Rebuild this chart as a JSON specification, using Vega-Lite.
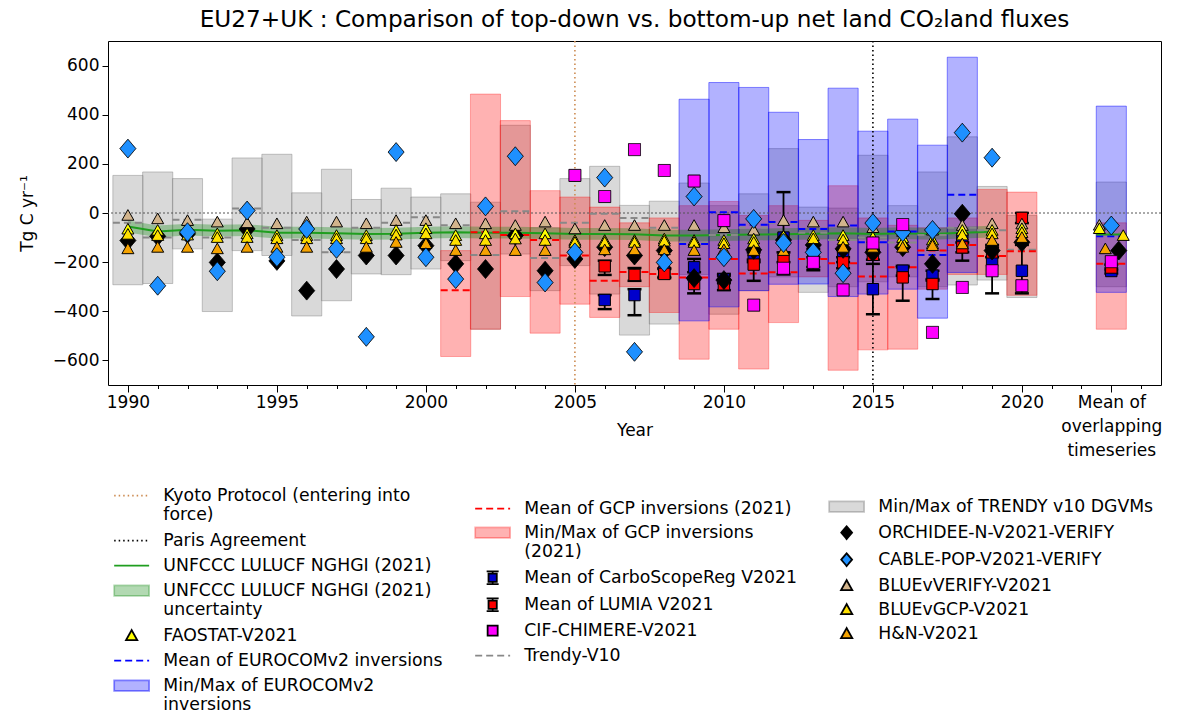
{
  "$schema": "https://vega.github.io/schema/vega-lite/v6.json",
  "autosize": {"type": "none"},
  "padding": {"left": 108, "top": 41, "right": 17, "bottom": 329},
  "width": 1053,
  "height": 344,
  "background": "white",
  "title": {"text": "EU27+UK : Comparison of top-down vs. bottom-up net land CO₂land fluxes", "fontSize": 23.2, "fontWeight": "normal", "font": "DejaVu Sans", "color": "black", "offset": 8, "anchor": "middle", "frame": "group"},
  "config": {"view": {"stroke": "black", "strokeWidth": 1}, "font": "DejaVu Sans", "axis": {"labelOverlap": false}},
  "resolve": {"axis": {"x": "independent"}, "legend": {"fill": "independent", "stroke": "independent", "shape": "independent", "strokeDash": "independent"}},
  "datasets": {
    "bars": [
      {"s":"Min/Max of TRENDY v10 DGVMs","x":1990,"lo":-292,"hi":153},
      {"s":"Min/Max of TRENDY v10 DGVMs","x":1991,"lo":-287,"hi":167},
      {"s":"Min/Max of TRENDY v10 DGVMs","x":1992,"lo":-146,"hi":140},
      {"s":"Min/Max of TRENDY v10 DGVMs","x":1993,"lo":-401,"hi":-25},
      {"s":"Min/Max of TRENDY v10 DGVMs","x":1994,"lo":-153,"hi":224},
      {"s":"Min/Max of TRENDY v10 DGVMs","x":1995,"lo":-173,"hi":239},
      {"s":"Min/Max of TRENDY v10 DGVMs","x":1996,"lo":-419,"hi":82},
      {"s":"Min/Max of TRENDY v10 DGVMs","x":1997,"lo":-357,"hi":178},
      {"s":"Min/Max of TRENDY v10 DGVMs","x":1998,"lo":-248,"hi":55},
      {"s":"Min/Max of TRENDY v10 DGVMs","x":1999,"lo":-251,"hi":101},
      {"s":"Min/Max of TRENDY v10 DGVMs","x":2000,"lo":-228,"hi":65},
      {"s":"Min/Max of TRENDY v10 DGVMs","x":2001,"lo":-194,"hi":78},
      {"s":"Min/Max of TRENDY v10 DGVMs","x":2002,"lo":-473,"hi":44},
      {"s":"Min/Max of TRENDY v10 DGVMs","x":2003,"lo":-167,"hi":357},
      {"s":"Min/Max of TRENDY v10 DGVMs","x":2004,"lo":-316,"hi":-60},
      {"s":"Min/Max of TRENDY v10 DGVMs","x":2005,"lo":-214,"hi":140},
      {"s":"Min/Max of TRENDY v10 DGVMs","x":2006,"lo":-330,"hi":190},
      {"s":"Min/Max of TRENDY v10 DGVMs","x":2007,"lo":-497,"hi":31},
      {"s":"Min/Max of TRENDY v10 DGVMs","x":2008,"lo":-452,"hi":48},
      {"s":"Min/Max of TRENDY v10 DGVMs","x":2009,"lo":-250,"hi":122},
      {"s":"Min/Max of TRENDY v10 DGVMs","x":2010,"lo":-412,"hi":30},
      {"s":"Min/Max of TRENDY v10 DGVMs","x":2011,"lo":-316,"hi":78},
      {"s":"Min/Max of TRENDY v10 DGVMs","x":2012,"lo":-260,"hi":262},
      {"s":"Min/Max of TRENDY v10 DGVMs","x":2013,"lo":-323,"hi":24},
      {"s":"Min/Max of TRENDY v10 DGVMs","x":2014,"lo":-300,"hi":20},
      {"s":"Min/Max of TRENDY v10 DGVMs","x":2015,"lo":-280,"hi":235},
      {"s":"Min/Max of TRENDY v10 DGVMs","x":2016,"lo":-260,"hi":30},
      {"s":"Min/Max of TRENDY v10 DGVMs","x":2017,"lo":-300,"hi":167},
      {"s":"Min/Max of TRENDY v10 DGVMs","x":2018,"lo":-293,"hi":310},
      {"s":"Min/Max of TRENDY v10 DGVMs","x":2019,"lo":-273,"hi":108},
      {"s":"Min/Max of TRENDY v10 DGVMs","x":2020,"lo":-344,"hi":-10},
      {"s":"Min/Max of TRENDY v10 DGVMs","x":2023,"lo":-300,"hi":126},
      {"s":"Min/Max of GCP inversions (2021)","x":2001,"lo":-584,"hi":-153},
      {"s":"Min/Max of GCP inversions (2021)","x":2002,"lo":-473,"hi":484},
      {"s":"Min/Max of GCP inversions (2021)","x":2003,"lo":-340,"hi":376},
      {"s":"Min/Max of GCP inversions (2021)","x":2004,"lo":-489,"hi":91},
      {"s":"Min/Max of GCP inversions (2021)","x":2005,"lo":-371,"hi":65},
      {"s":"Min/Max of GCP inversions (2021)","x":2006,"lo":-425,"hi":24},
      {"s":"Min/Max of GCP inversions (2021)","x":2007,"lo":-300,"hi":-40},
      {"s":"Min/Max of GCP inversions (2021)","x":2008,"lo":-405,"hi":-20},
      {"s":"Min/Max of GCP inversions (2021)","x":2009,"lo":-595,"hi":30},
      {"s":"Min/Max of GCP inversions (2021)","x":2010,"lo":-473,"hi":47},
      {"s":"Min/Max of GCP inversions (2021)","x":2011,"lo":-635,"hi":-10},
      {"s":"Min/Max of GCP inversions (2021)","x":2012,"lo":-446,"hi":30},
      {"s":"Min/Max of GCP inversions (2021)","x":2013,"lo":-260,"hi":-30},
      {"s":"Min/Max of GCP inversions (2021)","x":2014,"lo":-640,"hi":111},
      {"s":"Min/Max of GCP inversions (2021)","x":2015,"lo":-557,"hi":-20},
      {"s":"Min/Max of GCP inversions (2021)","x":2016,"lo":-554,"hi":-50},
      {"s":"Min/Max of GCP inversions (2021)","x":2017,"lo":-310,"hi":-60},
      {"s":"Min/Max of GCP inversions (2021)","x":2018,"lo":-250,"hi":-20},
      {"s":"Min/Max of GCP inversions (2021)","x":2019,"lo":-250,"hi":96},
      {"s":"Min/Max of GCP inversions (2021)","x":2020,"lo":-335,"hi":85},
      {"s":"Min/Max of GCP inversions (2021)","x":2023,"lo":-473,"hi":-40},
      {"s":"Min/Max of EUROCOMv2 inversions","x":2009,"lo":-439,"hi":463},
      {"s":"Min/Max of EUROCOMv2 inversions","x":2010,"lo":-382,"hi":531},
      {"s":"Min/Max of EUROCOMv2 inversions","x":2011,"lo":-316,"hi":511},
      {"s":"Min/Max of EUROCOMv2 inversions","x":2012,"lo":-290,"hi":410},
      {"s":"Min/Max of EUROCOMv2 inversions","x":2013,"lo":-289,"hi":299},
      {"s":"Min/Max of EUROCOMv2 inversions","x":2014,"lo":-340,"hi":508},
      {"s":"Min/Max of EUROCOMv2 inversions","x":2015,"lo":-330,"hi":333},
      {"s":"Min/Max of EUROCOMv2 inversions","x":2016,"lo":-310,"hi":382},
      {"s":"Min/Max of EUROCOMv2 inversions","x":2017,"lo":-428,"hi":276},
      {"s":"Min/Max of EUROCOMv2 inversions","x":2018,"lo":-242,"hi":634},
      {"s":"Min/Max of EUROCOMv2 inversions","x":2023,"lo":-323,"hi":435}
    ],
    "band": [
      {"s":"UNFCCC LULUCF NGHGI (2021) uncertainty","x":1990,"lo":-79,"hi":-31},
      {"s":"UNFCCC LULUCF NGHGI (2021) uncertainty","x":1991,"lo":-99,"hi":-51},
      {"s":"UNFCCC LULUCF NGHGI (2021) uncertainty","x":1992,"lo":-92,"hi":-44},
      {"s":"UNFCCC LULUCF NGHGI (2021) uncertainty","x":1993,"lo":-96,"hi":-48},
      {"s":"UNFCCC LULUCF NGHGI (2021) uncertainty","x":1994,"lo":-94,"hi":-46},
      {"s":"UNFCCC LULUCF NGHGI (2021) uncertainty","x":1995,"lo":-104,"hi":-56},
      {"s":"UNFCCC LULUCF NGHGI (2021) uncertainty","x":1996,"lo":-104,"hi":-56},
      {"s":"UNFCCC LULUCF NGHGI (2021) uncertainty","x":1997,"lo":-106,"hi":-58},
      {"s":"UNFCCC LULUCF NGHGI (2021) uncertainty","x":1998,"lo":-109,"hi":-61},
      {"s":"UNFCCC LULUCF NGHGI (2021) uncertainty","x":1999,"lo":-108,"hi":-60},
      {"s":"UNFCCC LULUCF NGHGI (2021) uncertainty","x":2000,"lo":-104,"hi":-56},
      {"s":"UNFCCC LULUCF NGHGI (2021) uncertainty","x":2001,"lo":-102,"hi":-54},
      {"s":"UNFCCC LULUCF NGHGI (2021) uncertainty","x":2002,"lo":-104,"hi":-56},
      {"s":"UNFCCC LULUCF NGHGI (2021) uncertainty","x":2003,"lo":-104,"hi":-56},
      {"s":"UNFCCC LULUCF NGHGI (2021) uncertainty","x":2004,"lo":-106,"hi":-58},
      {"s":"UNFCCC LULUCF NGHGI (2021) uncertainty","x":2005,"lo":-109,"hi":-61},
      {"s":"UNFCCC LULUCF NGHGI (2021) uncertainty","x":2006,"lo":-109,"hi":-61},
      {"s":"UNFCCC LULUCF NGHGI (2021) uncertainty","x":2007,"lo":-110,"hi":-62},
      {"s":"UNFCCC LULUCF NGHGI (2021) uncertainty","x":2008,"lo":-116,"hi":-68},
      {"s":"UNFCCC LULUCF NGHGI (2021) uncertainty","x":2009,"lo":-116,"hi":-68},
      {"s":"UNFCCC LULUCF NGHGI (2021) uncertainty","x":2010,"lo":-114,"hi":-66},
      {"s":"UNFCCC LULUCF NGHGI (2021) uncertainty","x":2011,"lo":-112,"hi":-64},
      {"s":"UNFCCC LULUCF NGHGI (2021) uncertainty","x":2012,"lo":-110,"hi":-62},
      {"s":"UNFCCC LULUCF NGHGI (2021) uncertainty","x":2013,"lo":-108,"hi":-60},
      {"s":"UNFCCC LULUCF NGHGI (2021) uncertainty","x":2014,"lo":-106,"hi":-58},
      {"s":"UNFCCC LULUCF NGHGI (2021) uncertainty","x":2015,"lo":-109,"hi":-61},
      {"s":"UNFCCC LULUCF NGHGI (2021) uncertainty","x":2016,"lo":-106,"hi":-58},
      {"s":"UNFCCC LULUCF NGHGI (2021) uncertainty","x":2017,"lo":-109,"hi":-61},
      {"s":"UNFCCC LULUCF NGHGI (2021) uncertainty","x":2018,"lo":-104,"hi":-56},
      {"s":"UNFCCC LULUCF NGHGI (2021) uncertainty","x":2019,"lo":-100,"hi":-52}
    ],
    "unf": [
      {"s":"UNFCCC LULUCF NGHGI (2021)","x":1990,"y":-55},
      {"s":"UNFCCC LULUCF NGHGI (2021)","x":1991,"y":-75},
      {"s":"UNFCCC LULUCF NGHGI (2021)","x":1992,"y":-68},
      {"s":"UNFCCC LULUCF NGHGI (2021)","x":1993,"y":-72},
      {"s":"UNFCCC LULUCF NGHGI (2021)","x":1994,"y":-70},
      {"s":"UNFCCC LULUCF NGHGI (2021)","x":1995,"y":-80},
      {"s":"UNFCCC LULUCF NGHGI (2021)","x":1996,"y":-80},
      {"s":"UNFCCC LULUCF NGHGI (2021)","x":1997,"y":-82},
      {"s":"UNFCCC LULUCF NGHGI (2021)","x":1998,"y":-85},
      {"s":"UNFCCC LULUCF NGHGI (2021)","x":1999,"y":-84},
      {"s":"UNFCCC LULUCF NGHGI (2021)","x":2000,"y":-80},
      {"s":"UNFCCC LULUCF NGHGI (2021)","x":2001,"y":-78},
      {"s":"UNFCCC LULUCF NGHGI (2021)","x":2002,"y":-80},
      {"s":"UNFCCC LULUCF NGHGI (2021)","x":2003,"y":-80},
      {"s":"UNFCCC LULUCF NGHGI (2021)","x":2004,"y":-82},
      {"s":"UNFCCC LULUCF NGHGI (2021)","x":2005,"y":-85},
      {"s":"UNFCCC LULUCF NGHGI (2021)","x":2006,"y":-85},
      {"s":"UNFCCC LULUCF NGHGI (2021)","x":2007,"y":-86},
      {"s":"UNFCCC LULUCF NGHGI (2021)","x":2008,"y":-92},
      {"s":"UNFCCC LULUCF NGHGI (2021)","x":2009,"y":-92},
      {"s":"UNFCCC LULUCF NGHGI (2021)","x":2010,"y":-90},
      {"s":"UNFCCC LULUCF NGHGI (2021)","x":2011,"y":-88},
      {"s":"UNFCCC LULUCF NGHGI (2021)","x":2012,"y":-86},
      {"s":"UNFCCC LULUCF NGHGI (2021)","x":2013,"y":-84},
      {"s":"UNFCCC LULUCF NGHGI (2021)","x":2014,"y":-82},
      {"s":"UNFCCC LULUCF NGHGI (2021)","x":2015,"y":-85},
      {"s":"UNFCCC LULUCF NGHGI (2021)","x":2016,"y":-82},
      {"s":"UNFCCC LULUCF NGHGI (2021)","x":2017,"y":-85},
      {"s":"UNFCCC LULUCF NGHGI (2021)","x":2018,"y":-80},
      {"s":"UNFCCC LULUCF NGHGI (2021)","x":2019,"y":-76}
    ],
    "vlines": [
      {"s":"Kyoto Protocol (entering into force)","x":2005},
      {"s":"Paris Agreement","x":2015}
    ],
    "dashes": [
      {"s":"Trendy-V10","x":1990,"y":-40},{"s":"Trendy-V10","x":1991,"y":-100},{"s":"Trendy-V10","x":1992,"y":-27},
      {"s":"Trendy-V10","x":1993,"y":-100},{"s":"Trendy-V10","x":1994,"y":18},{"s":"Trendy-V10","x":1995,"y":-60},
      {"s":"Trendy-V10","x":1996,"y":-110},{"s":"Trendy-V10","x":1997,"y":-160},{"s":"Trendy-V10","x":1998,"y":-60},
      {"s":"Trendy-V10","x":1999,"y":-40},{"s":"Trendy-V10","x":2000,"y":-17},{"s":"Trendy-V10","x":2001,"y":-50},
      {"s":"Trendy-V10","x":2002,"y":-171},{"s":"Trendy-V10","x":2003,"y":7},{"s":"Trendy-V10","x":2004,"y":-183},
      {"s":"Trendy-V10","x":2005,"y":-40},{"s":"Trendy-V10","x":2006,"y":-3},{"s":"Trendy-V10","x":2007,"y":-20},
      {"s":"Trendy-V10","x":2008,"y":-60},{"s":"Trendy-V10","x":2009,"y":-120},{"s":"Trendy-V10","x":2010,"y":-90},
      {"s":"Trendy-V10","x":2011,"y":-60},{"s":"Trendy-V10","x":2012,"y":-40},{"s":"Trendy-V10","x":2013,"y":-80},
      {"s":"Trendy-V10","x":2014,"y":-110},{"s":"Trendy-V10","x":2015,"y":-100},{"s":"Trendy-V10","x":2016,"y":-120},
      {"s":"Trendy-V10","x":2017,"y":-90},{"s":"Trendy-V10","x":2018,"y":-60},{"s":"Trendy-V10","x":2019,"y":-70},
      {"s":"Trendy-V10","x":2020,"y":-150},{"s":"Trendy-V10","x":2023,"y":-80},
      {"s":"Mean of GCP inversions (2021)","x":2001,"y":-314},{"s":"Mean of GCP inversions (2021)","x":2002,"y":-78},
      {"s":"Mean of GCP inversions (2021)","x":2003,"y":-90},{"s":"Mean of GCP inversions (2021)","x":2004,"y":-110},
      {"s":"Mean of GCP inversions (2021)","x":2005,"y":-173},{"s":"Mean of GCP inversions (2021)","x":2006,"y":-276},
      {"s":"Mean of GCP inversions (2021)","x":2007,"y":-240},{"s":"Mean of GCP inversions (2021)","x":2008,"y":-248},
      {"s":"Mean of GCP inversions (2021)","x":2009,"y":-262},{"s":"Mean of GCP inversions (2021)","x":2010,"y":-187},
      {"s":"Mean of GCP inversions (2021)","x":2011,"y":-246},{"s":"Mean of GCP inversions (2021)","x":2012,"y":-241},
      {"s":"Mean of GCP inversions (2021)","x":2013,"y":-187},{"s":"Mean of GCP inversions (2021)","x":2014,"y":-205},
      {"s":"Mean of GCP inversions (2021)","x":2015,"y":-258},{"s":"Mean of GCP inversions (2021)","x":2016,"y":-221},
      {"s":"Mean of GCP inversions (2021)","x":2017,"y":-153},{"s":"Mean of GCP inversions (2021)","x":2018,"y":-130},
      {"s":"Mean of GCP inversions (2021)","x":2019,"y":-175},{"s":"Mean of GCP inversions (2021)","x":2020,"y":-156},
      {"s":"Mean of GCP inversions (2021)","x":2023,"y":-207},
      {"s":"Mean of EUROCOMv2 inversions","x":2009,"y":-126},{"s":"Mean of EUROCOMv2 inversions","x":2010,"y":3},
      {"s":"Mean of EUROCOMv2 inversions","x":2011,"y":-48},{"s":"Mean of EUROCOMv2 inversions","x":2012,"y":-37},
      {"s":"Mean of EUROCOMv2 inversions","x":2013,"y":-65},{"s":"Mean of EUROCOMv2 inversions","x":2014,"y":-51},
      {"s":"Mean of EUROCOMv2 inversions","x":2015,"y":-119},{"s":"Mean of EUROCOMv2 inversions","x":2016,"y":-75},
      {"s":"Mean of EUROCOMv2 inversions","x":2017,"y":-171},{"s":"Mean of EUROCOMv2 inversions","x":2018,"y":74},
      {"s":"Mean of EUROCOMv2 inversions","x":2023,"y":-95},
      {"s":"UNFCCC LULUCF NGHGI (2021)","x":2023,"y":-88}
    ],
    "errs": [
      {"s":"Mean of CarboScopeReg V2021","x":2006,"y":-354,"lo":-391,"hi":-334},
      {"s":"Mean of CarboScopeReg V2021","x":2007,"y":-334,"lo":-416,"hi":-310},
      {"s":"Mean of CarboScopeReg V2021","x":2008,"y":-240,"lo":-260,"hi":-225},
      {"s":"Mean of CarboScopeReg V2021","x":2009,"y":-221,"lo":-241,"hi":-187},
      {"s":"Mean of CarboScopeReg V2021","x":2010,"y":-270,"lo":-285,"hi":-255},
      {"s":"Mean of CarboScopeReg V2021","x":2011,"y":-180,"lo":-200,"hi":-160},
      {"s":"Mean of CarboScopeReg V2021","x":2012,"y":-100,"lo":-250,"hi":85},
      {"s":"Mean of CarboScopeReg V2021","x":2013,"y":-190,"lo":-233,"hi":-146},
      {"s":"Mean of CarboScopeReg V2021","x":2014,"y":-175,"lo":-200,"hi":-150},
      {"s":"Mean of CarboScopeReg V2021","x":2015,"y":-310,"lo":-412,"hi":-207},
      {"s":"Mean of CarboScopeReg V2021","x":2016,"y":-235,"lo":-255,"hi":-215},
      {"s":"Mean of CarboScopeReg V2021","x":2017,"y":-255,"lo":-275,"hi":-235},
      {"s":"Mean of CarboScopeReg V2021","x":2018,"y":-105,"lo":-194,"hi":-3},
      {"s":"Mean of CarboScopeReg V2021","x":2019,"y":-194,"lo":-327,"hi":-130},
      {"s":"Mean of CarboScopeReg V2021","x":2020,"y":-235,"lo":-327,"hi":-130},
      {"s":"Mean of CarboScopeReg V2021","x":2023,"y":-236,"lo":-246,"hi":-226},
      {"s":"Mean of LUMIA V2021","x":2006,"y":-217,"lo":-252,"hi":-194},
      {"s":"Mean of LUMIA V2021","x":2007,"y":-252,"lo":-276,"hi":-224},
      {"s":"Mean of LUMIA V2021","x":2008,"y":-248,"lo":-265,"hi":-228},
      {"s":"Mean of LUMIA V2021","x":2009,"y":-289,"lo":-327,"hi":-269},
      {"s":"Mean of LUMIA V2021","x":2010,"y":-290,"lo":-314,"hi":-248},
      {"s":"Mean of LUMIA V2021","x":2011,"y":-210,"lo":-276,"hi":-190},
      {"s":"Mean of LUMIA V2021","x":2012,"y":-187,"lo":-200,"hi":-160},
      {"s":"Mean of LUMIA V2021","x":2013,"y":-200,"lo":-220,"hi":-180},
      {"s":"Mean of LUMIA V2021","x":2014,"y":-201,"lo":-225,"hi":-180},
      {"s":"Mean of LUMIA V2021","x":2015,"y":-170,"lo":-190,"hi":-150},
      {"s":"Mean of LUMIA V2021","x":2016,"y":-262,"lo":-357,"hi":-221},
      {"s":"Mean of LUMIA V2021","x":2017,"y":-289,"lo":-350,"hi":-269},
      {"s":"Mean of LUMIA V2021","x":2018,"y":-140,"lo":-160,"hi":-120},
      {"s":"Mean of LUMIA V2021","x":2019,"y":-160,"lo":-180,"hi":-140},
      {"s":"Mean of LUMIA V2021","x":2020,"y":-20,"lo":-41,"hi":0},
      {"s":"Mean of LUMIA V2021","x":2023,"y":-222,"lo":-234,"hi":-210}
    ],
    "pts": [
      {"s":"ORCHIDEE-N-V2021-VERIFY","x":1990,"y":-112},{"s":"ORCHIDEE-N-V2021-VERIFY","x":1991,"y":-95},
      {"s":"ORCHIDEE-N-V2021-VERIFY","x":1992,"y":-85},{"s":"ORCHIDEE-N-V2021-VERIFY","x":1993,"y":-201},
      {"s":"ORCHIDEE-N-V2021-VERIFY","x":1994,"y":-65},{"s":"ORCHIDEE-N-V2021-VERIFY","x":1995,"y":-195},
      {"s":"ORCHIDEE-N-V2021-VERIFY","x":1996,"y":-316},{"s":"ORCHIDEE-N-V2021-VERIFY","x":1997,"y":-228},
      {"s":"ORCHIDEE-N-V2021-VERIFY","x":1998,"y":-173},{"s":"ORCHIDEE-N-V2021-VERIFY","x":1999,"y":-173},
      {"s":"ORCHIDEE-N-V2021-VERIFY","x":2000,"y":-133},{"s":"ORCHIDEE-N-V2021-VERIFY","x":2001,"y":-207},
      {"s":"ORCHIDEE-N-V2021-VERIFY","x":2002,"y":-228},{"s":"ORCHIDEE-N-V2021-VERIFY","x":2003,"y":-92},
      {"s":"ORCHIDEE-N-V2021-VERIFY","x":2004,"y":-235},{"s":"ORCHIDEE-N-V2021-VERIFY","x":2005,"y":-187},
      {"s":"ORCHIDEE-N-V2021-VERIFY","x":2006,"y":-139},{"s":"ORCHIDEE-N-V2021-VERIFY","x":2007,"y":-173},
      {"s":"ORCHIDEE-N-V2021-VERIFY","x":2008,"y":-153},{"s":"ORCHIDEE-N-V2021-VERIFY","x":2009,"y":-265},
      {"s":"ORCHIDEE-N-V2021-VERIFY","x":2010,"y":-273},{"s":"ORCHIDEE-N-V2021-VERIFY","x":2011,"y":-150},
      {"s":"ORCHIDEE-N-V2021-VERIFY","x":2012,"y":-110},{"s":"ORCHIDEE-N-V2021-VERIFY","x":2013,"y":-130},
      {"s":"ORCHIDEE-N-V2021-VERIFY","x":2014,"y":-146},{"s":"ORCHIDEE-N-V2021-VERIFY","x":2015,"y":-160},
      {"s":"ORCHIDEE-N-V2021-VERIFY","x":2016,"y":-139},{"s":"ORCHIDEE-N-V2021-VERIFY","x":2017,"y":-207},
      {"s":"ORCHIDEE-N-V2021-VERIFY","x":2018,"y":-3},{"s":"ORCHIDEE-N-V2021-VERIFY","x":2019,"y":-153},
      {"s":"ORCHIDEE-N-V2021-VERIFY","x":2020,"y":-119},{"s":"ORCHIDEE-N-V2021-VERIFY","x":2023.25,"y":-153},
      {"s":"BLUEvVERIFY-V2021","x":1990,"y":-10},{"s":"BLUEvVERIFY-V2021","x":1991,"y":-24},{"s":"BLUEvVERIFY-V2021","x":1992,"y":-31},
      {"s":"BLUEvVERIFY-V2021","x":1993,"y":-37},{"s":"BLUEvVERIFY-V2021","x":1994,"y":-40},{"s":"BLUEvVERIFY-V2021","x":1995,"y":-44},
      {"s":"BLUEvVERIFY-V2021","x":1996,"y":-37},{"s":"BLUEvVERIFY-V2021","x":1997,"y":-37},{"s":"BLUEvVERIFY-V2021","x":1998,"y":-44},
      {"s":"BLUEvVERIFY-V2021","x":1999,"y":-31},{"s":"BLUEvVERIFY-V2021","x":2000,"y":-31},{"s":"BLUEvVERIFY-V2021","x":2001,"y":-44},
      {"s":"BLUEvVERIFY-V2021","x":2002,"y":-44},{"s":"BLUEvVERIFY-V2021","x":2003,"y":-51},{"s":"BLUEvVERIFY-V2021","x":2004,"y":-37},
      {"s":"BLUEvVERIFY-V2021","x":2005,"y":-65},{"s":"BLUEvVERIFY-V2021","x":2006,"y":-51},{"s":"BLUEvVERIFY-V2021","x":2007,"y":-51},
      {"s":"BLUEvVERIFY-V2021","x":2008,"y":-51},{"s":"BLUEvVERIFY-V2021","x":2009,"y":-51},{"s":"BLUEvVERIFY-V2021","x":2010,"y":-60},
      {"s":"BLUEvVERIFY-V2021","x":2011,"y":-70},{"s":"BLUEvVERIFY-V2021","x":2012,"y":-31},{"s":"BLUEvVERIFY-V2021","x":2013,"y":-37},
      {"s":"BLUEvVERIFY-V2021","x":2014,"y":-37},{"s":"BLUEvVERIFY-V2021","x":2015,"y":-60},{"s":"BLUEvVERIFY-V2021","x":2016,"y":-75},
      {"s":"BLUEvVERIFY-V2021","x":2017,"y":-70},{"s":"BLUEvVERIFY-V2021","x":2018,"y":-51},{"s":"BLUEvVERIFY-V2021","x":2019,"y":-44},
      {"s":"BLUEvVERIFY-V2021","x":2020,"y":-45},{"s":"BLUEvVERIFY-V2021","x":2022.6,"y":-50},
      {"s":"FAOSTAT-V2021","x":1990,"y":-66},{"s":"FAOSTAT-V2021","x":1991,"y":-71},{"s":"FAOSTAT-V2021","x":1992,"y":-70},
      {"s":"FAOSTAT-V2021","x":1993,"y":-85},{"s":"FAOSTAT-V2021","x":1994,"y":-85},{"s":"FAOSTAT-V2021","x":1995,"y":-92},
      {"s":"FAOSTAT-V2021","x":1996,"y":-92},{"s":"FAOSTAT-V2021","x":1997,"y":-92},{"s":"FAOSTAT-V2021","x":1998,"y":-92},
      {"s":"FAOSTAT-V2021","x":1999,"y":-71},{"s":"FAOSTAT-V2021","x":2000,"y":-64},{"s":"FAOSTAT-V2021","x":2001,"y":-92},
      {"s":"FAOSTAT-V2021","x":2002,"y":-85},{"s":"FAOSTAT-V2021","x":2003,"y":-85},{"s":"FAOSTAT-V2021","x":2004,"y":-85},
      {"s":"FAOSTAT-V2021","x":2005,"y":-112},{"s":"FAOSTAT-V2021","x":2006,"y":-112},{"s":"FAOSTAT-V2021","x":2007,"y":-112},
      {"s":"FAOSTAT-V2021","x":2008,"y":-106},{"s":"FAOSTAT-V2021","x":2009,"y":-112},{"s":"FAOSTAT-V2021","x":2010,"y":-112},
      {"s":"FAOSTAT-V2021","x":2011,"y":-106},{"s":"FAOSTAT-V2021","x":2012,"y":-95},{"s":"FAOSTAT-V2021","x":2013,"y":-92},
      {"s":"FAOSTAT-V2021","x":2014,"y":-92},{"s":"FAOSTAT-V2021","x":2015,"y":-100},{"s":"FAOSTAT-V2021","x":2016,"y":-100},
      {"s":"FAOSTAT-V2021","x":2017,"y":-110},{"s":"FAOSTAT-V2021","x":2018,"y":-71},{"s":"FAOSTAT-V2021","x":2019,"y":-71},
      {"s":"FAOSTAT-V2021","x":2020,"y":-64},{"s":"FAOSTAT-V2021","x":2022.6,"y":-64},
      {"s":"BLUEvGCP-V2021","x":1990,"y":-87},{"s":"BLUEvGCP-V2021","x":1991,"y":-92},{"s":"BLUEvGCP-V2021","x":1992,"y":-90},
      {"s":"BLUEvGCP-V2021","x":1993,"y":-100},{"s":"BLUEvGCP-V2021","x":1994,"y":-100},{"s":"BLUEvGCP-V2021","x":1995,"y":-105},
      {"s":"BLUEvGCP-V2021","x":1996,"y":-105},{"s":"BLUEvGCP-V2021","x":1997,"y":-105},{"s":"BLUEvGCP-V2021","x":1998,"y":-105},
      {"s":"BLUEvGCP-V2021","x":1999,"y":-90},{"s":"BLUEvGCP-V2021","x":2000,"y":-85},{"s":"BLUEvGCP-V2021","x":2001,"y":-112},
      {"s":"BLUEvGCP-V2021","x":2002,"y":-112},{"s":"BLUEvGCP-V2021","x":2003,"y":-106},{"s":"BLUEvGCP-V2021","x":2004,"y":-112},
      {"s":"BLUEvGCP-V2021","x":2005,"y":-120},{"s":"BLUEvGCP-V2021","x":2006,"y":-120},{"s":"BLUEvGCP-V2021","x":2007,"y":-120},
      {"s":"BLUEvGCP-V2021","x":2008,"y":-115},{"s":"BLUEvGCP-V2021","x":2009,"y":-120},{"s":"BLUEvGCP-V2021","x":2010,"y":-125},
      {"s":"BLUEvGCP-V2021","x":2011,"y":-120},{"s":"BLUEvGCP-V2021","x":2012,"y":-110},{"s":"BLUEvGCP-V2021","x":2013,"y":-105},
      {"s":"BLUEvGCP-V2021","x":2014,"y":-110},{"s":"BLUEvGCP-V2021","x":2015,"y":-120},{"s":"BLUEvGCP-V2021","x":2016,"y":-120},
      {"s":"BLUEvGCP-V2021","x":2017,"y":-125},{"s":"BLUEvGCP-V2021","x":2018,"y":-90},{"s":"BLUEvGCP-V2021","x":2019,"y":-85},
      {"s":"BLUEvGCP-V2021","x":2020,"y":-80},{"s":"BLUEvGCP-V2021","x":2023.4,"y":-92},
      {"s":"H&N-V2021","x":1990,"y":-146},{"s":"H&N-V2021","x":1991,"y":-140},{"s":"H&N-V2021","x":1992,"y":-140},
      {"s":"H&N-V2021","x":1993,"y":-146},{"s":"H&N-V2021","x":1994,"y":-140},{"s":"H&N-V2021","x":1995,"y":-140},
      {"s":"H&N-V2021","x":1996,"y":-140},{"s":"H&N-V2021","x":1997,"y":-140},{"s":"H&N-V2021","x":1998,"y":-140},
      {"s":"H&N-V2021","x":1999,"y":-120},{"s":"H&N-V2021","x":2000,"y":-125},{"s":"H&N-V2021","x":2001,"y":-153},
      {"s":"H&N-V2021","x":2002,"y":-153},{"s":"H&N-V2021","x":2003,"y":-153},{"s":"H&N-V2021","x":2004,"y":-153},
      {"s":"H&N-V2021","x":2005,"y":-150},{"s":"H&N-V2021","x":2006,"y":-150},{"s":"H&N-V2021","x":2007,"y":-150},
      {"s":"H&N-V2021","x":2008,"y":-150},{"s":"H&N-V2021","x":2009,"y":-153},{"s":"H&N-V2021","x":2010,"y":-150},
      {"s":"H&N-V2021","x":2011,"y":-153},{"s":"H&N-V2021","x":2012,"y":-153},{"s":"H&N-V2021","x":2013,"y":-145},
      {"s":"H&N-V2021","x":2014,"y":-140},{"s":"H&N-V2021","x":2015,"y":-140},{"s":"H&N-V2021","x":2016,"y":-140},
      {"s":"H&N-V2021","x":2017,"y":-133},{"s":"H&N-V2021","x":2018,"y":-126},{"s":"H&N-V2021","x":2019,"y":-112},
      {"s":"H&N-V2021","x":2020,"y":-100},{"s":"H&N-V2021","x":2022.8,"y":-146},
      {"s":"CABLE-POP-V2021-VERIFY","x":1990,"y":262},{"s":"CABLE-POP-V2021-VERIFY","x":1991,"y":-296},
      {"s":"CABLE-POP-V2021-VERIFY","x":1992,"y":-78},{"s":"CABLE-POP-V2021-VERIFY","x":1993,"y":-237},
      {"s":"CABLE-POP-V2021-VERIFY","x":1994,"y":10},{"s":"CABLE-POP-V2021-VERIFY","x":1995,"y":-180},
      {"s":"CABLE-POP-V2021-VERIFY","x":1996,"y":-65},{"s":"CABLE-POP-V2021-VERIFY","x":1997,"y":-146},
      {"s":"CABLE-POP-V2021-VERIFY","x":1998,"y":-504},{"s":"CABLE-POP-V2021-VERIFY","x":1999,"y":248},
      {"s":"CABLE-POP-V2021-VERIFY","x":2000,"y":-180},{"s":"CABLE-POP-V2021-VERIFY","x":2001,"y":-269},
      {"s":"CABLE-POP-V2021-VERIFY","x":2002,"y":27},{"s":"CABLE-POP-V2021-VERIFY","x":2003,"y":231},
      {"s":"CABLE-POP-V2021-VERIFY","x":2004,"y":-283},{"s":"CABLE-POP-V2021-VERIFY","x":2005,"y":-160},
      {"s":"CABLE-POP-V2021-VERIFY","x":2006,"y":144},{"s":"CABLE-POP-V2021-VERIFY","x":2007,"y":-565},
      {"s":"CABLE-POP-V2021-VERIFY","x":2008,"y":-201},{"s":"CABLE-POP-V2021-VERIFY","x":2009,"y":67},
      {"s":"CABLE-POP-V2021-VERIFY","x":2010,"y":-180},{"s":"CABLE-POP-V2021-VERIFY","x":2011,"y":-24},
      {"s":"CABLE-POP-V2021-VERIFY","x":2012,"y":-122},{"s":"CABLE-POP-V2021-VERIFY","x":2013,"y":-160},
      {"s":"CABLE-POP-V2021-VERIFY","x":2014,"y":-245},{"s":"CABLE-POP-V2021-VERIFY","x":2015,"y":-41},
      {"s":"CABLE-POP-V2021-VERIFY","x":2016,"y":-78},{"s":"CABLE-POP-V2021-VERIFY","x":2017,"y":-69},
      {"s":"CABLE-POP-V2021-VERIFY","x":2018,"y":327},{"s":"CABLE-POP-V2021-VERIFY","x":2019,"y":225},
      {"s":"CABLE-POP-V2021-VERIFY","x":2023,"y":-51},
      {"s":"CIF-CHIMERE-V2021","x":2005,"y":153},{"s":"CIF-CHIMERE-V2021","x":2006,"y":67},{"s":"CIF-CHIMERE-V2021","x":2007,"y":258},
      {"s":"CIF-CHIMERE-V2021","x":2008,"y":173},{"s":"CIF-CHIMERE-V2021","x":2009,"y":130},{"s":"CIF-CHIMERE-V2021","x":2010,"y":-31},
      {"s":"CIF-CHIMERE-V2021","x":2011,"y":-375},{"s":"CIF-CHIMERE-V2021","x":2012,"y":-225},{"s":"CIF-CHIMERE-V2021","x":2013,"y":-201},
      {"s":"CIF-CHIMERE-V2021","x":2014,"y":-313},{"s":"CIF-CHIMERE-V2021","x":2015,"y":-122},{"s":"CIF-CHIMERE-V2021","x":2016,"y":-47},
      {"s":"CIF-CHIMERE-V2021","x":2017,"y":-486},{"s":"CIF-CHIMERE-V2021","x":2018,"y":-303},{"s":"CIF-CHIMERE-V2021","x":2019,"y":-235},
      {"s":"CIF-CHIMERE-V2021","x":2020,"y":-296},{"s":"CIF-CHIMERE-V2021","x":2023,"y":-198}
    ]
  },
  "layer": [
    {
      "data": {"name": "bars"},
      "mark": {"type": "bar", "width": 30.1, "strokeWidth": 1},
      "encoding": {
        "x": {"field": "x", "type": "quantitative", "scale": {"domain": [1989.5, 2024.5], "nice": false, "zero": false},
          "axis": {"orient": "bottom", "values": [1990,1995,2000,2005,2010,2015,2020], "format": "d",
            "labelOverlap": false, "labelFlush": false, "labelFontSize": 17, "labelPadding": 2, "tickSize": 7,
            "labelColor": "black", "tickColor": "black", "domain": false, "grid": false,
            "title": "Year", "titleFontSize": 17, "titleFontWeight": "normal", "titleColor": "black", "titleY": 45, "titleBaseline": "middle"}},
        "y": {"field": "lo", "type": "quantitative", "scale": {"domain": [-700, 700], "nice": false, "zero": false},
          "axis": {"values": [-600,-400,-200,0,200,400,600], "format": "d", "labelExpr": "replace(datum.label, '-', '−')",
            "tickSize": 6, "labelFontSize": 17, "labelPadding": 3, "labelColor": "black", "tickColor": "black", "domain": false, "grid": false,
            "title": "Tg C yr⁻¹", "titleFontSize": 17, "titleFontWeight": "normal", "titleColor": "black", "titlePadding": 16}},
        "y2": {"field": "hi"},
        "fill": {"field": "s", "type": "nominal", "legend": null,
          "scale": {"domain": ["Kyoto Protocol (entering into force)","Paris Agreement","UNFCCC LULUCF NGHGI (2021)","UNFCCC LULUCF NGHGI (2021) uncertainty","FAOSTAT-V2021","Mean of EUROCOMv2 inversions","Min/Max of EUROCOMv2 inversions","Mean of GCP inversions (2021)","Min/Max of GCP inversions (2021)","Mean of CarboScopeReg V2021","Mean of LUMIA V2021","CIF-CHIMERE-V2021","Trendy-V10","Min/Max of TRENDY v10 DGVMs","ORCHIDEE-N-V2021-VERIFY","CABLE-POP-V2021-VERIFY","BLUEvVERIFY-V2021","BLUEvGCP-V2021","H&N-V2021"],
            "range": ["#cd8c52","#000000","#1f9e1f","rgba(0,128,0,0.3)","#ffff00","#0000ff","rgba(0,0,255,0.3)","#ff0000","rgba(255,0,0,0.3)","#0000cc","#ff0000","#ff00ff","#888888","rgba(128,128,128,0.3)","#000000","#1e90ff","#d2b48c","#ffe000","#f5a300"]}},
        "stroke": {"field": "s", "type": "nominal", "legend": null,
          "scale": {"domain": ["Kyoto Protocol (entering into force)","Paris Agreement","UNFCCC LULUCF NGHGI (2021)","UNFCCC LULUCF NGHGI (2021) uncertainty","FAOSTAT-V2021","Mean of EUROCOMv2 inversions","Min/Max of EUROCOMv2 inversions","Mean of GCP inversions (2021)","Min/Max of GCP inversions (2021)","Mean of CarboScopeReg V2021","Mean of LUMIA V2021","CIF-CHIMERE-V2021","Trendy-V10","Min/Max of TRENDY v10 DGVMs","ORCHIDEE-N-V2021-VERIFY","CABLE-POP-V2021-VERIFY","BLUEvVERIFY-V2021","BLUEvGCP-V2021","H&N-V2021"],
            "range": ["#cd8c52","#000000","#1f9e1f","rgba(0,128,0,0.3)","#000000","#0000ff","rgba(0,0,255,0.45)","#ff0000","rgba(255,0,0,0.3)","#000000","#000000","#000000","#888888","rgba(128,128,128,0.45)","#000000","#000000","#000000","#000000","#000000"]}}
      }
    },
    {
      "data": {"values": [{}]},
      "mark": {"type": "rule", "color": "#555555", "strokeDash": [2, 2], "strokeWidth": 1},
      "encoding": {"y": {"datum": 0}}
    },
    {
      "data": {"name": "band"},
      "mark": {"type": "area", "opacity": 1},
      "encoding": {
        "x": {"field": "x", "type": "quantitative",
          "axis": {"orient": "bottom", "values": [1991,1992,1993,1994,1996,1997,1998,1999,2001,2002,2003,2004,2006,2007,2008,2009,2011,2012,2013,2014,2016,2017,2018,2019,2021,2022,2024],
            "labels": false, "tickSize": 3.5, "tickColor": "black", "domain": false, "grid": false, "title": null}},
        "y": {"field": "lo", "type": "quantitative"},
        "y2": {"field": "hi"},
        "fill": {"field": "s", "type": "nominal", "legend": null}
      }
    },
    {
      "data": {"name": "unf"},
      "mark": {"type": "line", "strokeWidth": 2},
      "encoding": {
        "x": {"field": "x", "type": "quantitative", "axis": null},
        "y": {"field": "y", "type": "quantitative"},
        "stroke": {"field": "s", "type": "nominal", "legend": null}
      }
    },
    {
      "data": {"name": "vlines"},
      "mark": {"type": "rule", "strokeWidth": 1.6},
      "encoding": {
        "x": {"field": "x", "type": "quantitative", "axis": null},
        "stroke": {"field": "s", "type": "nominal", "legend": null},
        "strokeDash": {"field": "s", "type": "nominal", "legend": null,
          "scale": {"domain": ["Kyoto Protocol (entering into force)","Paris Agreement","UNFCCC LULUCF NGHGI (2021)","UNFCCC LULUCF NGHGI (2021) uncertainty","FAOSTAT-V2021","Mean of EUROCOMv2 inversions","Min/Max of EUROCOMv2 inversions","Mean of GCP inversions (2021)","Min/Max of GCP inversions (2021)","Mean of CarboScopeReg V2021","Mean of LUMIA V2021","CIF-CHIMERE-V2021","Trendy-V10","Min/Max of TRENDY v10 DGVMs","ORCHIDEE-N-V2021-VERIFY","CABLE-POP-V2021-VERIFY","BLUEvVERIFY-V2021","BLUEvGCP-V2021","H&N-V2021"],
            "range": [[1.5,3],[1.5,3],[1,0],[1,0],[1,0],[7,4],[1,0],[7,4],[1,0],[1,0],[1,0],[1,0],[7,4],[1,0],[1,0],[1,0],[1,0],[1,0],[1,0]]}}
      }
    },
    {
      "data": {"name": "dashes"},
      "mark": {"type": "point", "filled": false, "size": 166, "strokeWidth": 2, "opacity": 1},
      "encoding": {
        "x": {"field": "x", "type": "quantitative", "axis": null},
        "y": {"field": "y", "type": "quantitative"},
        "shape": {"field": "s", "type": "nominal", "legend": null,
          "scale": {"domain": ["Kyoto Protocol (entering into force)","Paris Agreement","UNFCCC LULUCF NGHGI (2021)","UNFCCC LULUCF NGHGI (2021) uncertainty","FAOSTAT-V2021","Mean of EUROCOMv2 inversions","Min/Max of EUROCOMv2 inversions","Mean of GCP inversions (2021)","Min/Max of GCP inversions (2021)","Mean of CarboScopeReg V2021","Mean of LUMIA V2021","CIF-CHIMERE-V2021","Trendy-V10","Min/Max of TRENDY v10 DGVMs","ORCHIDEE-N-V2021-VERIFY","CABLE-POP-V2021-VERIFY","BLUEvVERIFY-V2021","BLUEvGCP-V2021","H&N-V2021"],
            "range": ["M-2.33,0H2.33","M-2.33,0H2.33","M-2.33,0H2.33","M-2.33,-0.7H2.33V0.7H-2.33Z","M0,-0.73L0.75,0.6L-0.75,0.6Z","M-2.33,0H2.33","M-2.33,-0.7H2.33V0.7H-2.33Z","M-2.33,0H2.33","M-2.33,-0.7H2.33V0.7H-2.33Z","M-0.8,-0.85H0.8M0,-0.85V-0.55M0,0.55V0.85M-0.8,0.85H0.8M-0.55,-0.55H0.55V0.55H-0.55Z","M-0.8,-0.85H0.8M0,-0.85V-0.55M0,0.55V0.85M-0.8,0.85H0.8M-0.55,-0.55H0.55V0.55H-0.55Z","M-0.67,-0.67H0.67V0.67H-0.67Z","M-2.33,0H2.33","M-2.33,-0.7H2.33V0.7H-2.33Z","M0,-0.85L0.72,0L0,0.85L-0.72,0Z","M0,-0.85L0.72,0L0,0.85L-0.72,0Z","M0,-0.73L0.75,0.6L-0.75,0.6Z","M0,-0.73L0.75,0.6L-0.75,0.6Z","M0,-0.73L0.75,0.6L-0.75,0.6Z"]}},
        "stroke": {"field": "s", "type": "nominal", "legend": null},
        "strokeDash": {"field": "s", "type": "nominal", "legend": null}
      }
    },
    {
      "data": {"name": "errs"},
      "mark": {"type": "rule", "color": "black", "strokeWidth": 1.8},
      "encoding": {
        "x": {"field": "x", "type": "quantitative", "axis": null},
        "y": {"field": "lo", "type": "quantitative"},
        "y2": {"field": "hi"}
      }
    },
    {
      "data": {"name": "errs"},
      "mark": {"type": "point", "shape": "M-1,0H1", "filled": false, "size": 196, "color": "black", "stroke": "black", "strokeWidth": 2.5, "opacity": 1},
      "encoding": {
        "x": {"field": "x", "type": "quantitative", "axis": null},
        "y": {"field": "lo", "type": "quantitative"}
      }
    },
    {
      "data": {"name": "errs"},
      "mark": {"type": "point", "shape": "M-1,0H1", "filled": false, "size": 196, "color": "black", "stroke": "black", "strokeWidth": 2.5, "opacity": 1},
      "encoding": {
        "x": {"field": "x", "type": "quantitative", "axis": null},
        "y": {"field": "hi", "type": "quantitative"}
      }
    },
    {
      "data": {"name": "errs"},
      "mark": {"type": "point", "shape": "square", "filled": true, "size": 130, "stroke": "black", "strokeWidth": 1, "opacity": 1},
      "encoding": {
        "x": {"field": "x", "type": "quantitative", "axis": null},
        "y": {"field": "y", "type": "quantitative"},
        "fill": {"field": "s", "type": "nominal", "legend": null}
      }
    },
    {
      "data": {"name": "pts"},
      "transform": [{"filter": {"field": "s", "equal": "ORCHIDEE-N-V2021-VERIFY"}}],
      "mark": {"type": "point", "filled": true, "size": 493, "strokeWidth": 1, "opacity": 1},
      "encoding": {
        "x": {"field": "x", "type": "quantitative", "axis": null},
        "y": {"field": "y", "type": "quantitative"},
        "shape": {"field": "s", "type": "nominal", "legend": {"title": null, "orient": "none", "direction": "vertical", "legendX": 15, "legendY": 446,
            "values": ["Kyoto Protocol (entering into force)","Paris Agreement","UNFCCC LULUCF NGHGI (2021)","UNFCCC LULUCF NGHGI (2021) uncertainty","FAOSTAT-V2021","Mean of EUROCOMv2 inversions","Min/Max of EUROCOMv2 inversions"],
            "symbolSize": 225, "symbolStrokeWidth": 1.8, "symbolFillColor": "transparent", "symbolStrokeColor": "black", "symbolOffset": 0, "labelOffset": 23, "labelFontSize": 17.3, "labelFont": "DejaVu Sans", "labelColor": "black", "labelLimit": 600, "rowPadding": 7, "padding": 0,
            "labelExpr": "datum.label == 'Kyoto Protocol (entering into force)' ? ['Kyoto Protocol (entering into', 'force)'] : (datum.label == 'UNFCCC LULUCF NGHGI (2021) uncertainty' ? ['UNFCCC LULUCF NGHGI (2021)', 'uncertainty'] : (datum.label == 'Min/Max of EUROCOMv2 inversions' ? ['Min/Max of EUROCOMv2', 'inversions'] : datum.label))",
            "encode": {"symbols": {"update": {"strokeWidth": {"value": 1.8}}}, "labels": {"update": {"lineHeight": {"value": 20}}}}}},
        "fill": {"field": "s", "type": "nominal", "legend": {"title": null, "orient": "none", "direction": "vertical", "legendX": 15, "legendY": 446,
            "values": ["Kyoto Protocol (entering into force)","Paris Agreement","UNFCCC LULUCF NGHGI (2021)","UNFCCC LULUCF NGHGI (2021) uncertainty","FAOSTAT-V2021","Mean of EUROCOMv2 inversions","Min/Max of EUROCOMv2 inversions"],
            "symbolSize": 225, "symbolStrokeWidth": 1.8, "symbolFillColor": "transparent", "symbolStrokeColor": "black", "symbolOffset": 0, "labelOffset": 23, "labelFontSize": 17.3, "labelFont": "DejaVu Sans", "labelColor": "black", "labelLimit": 600, "rowPadding": 7, "padding": 0,
            "labelExpr": "datum.label == 'Kyoto Protocol (entering into force)' ? ['Kyoto Protocol (entering into', 'force)'] : (datum.label == 'UNFCCC LULUCF NGHGI (2021) uncertainty' ? ['UNFCCC LULUCF NGHGI (2021)', 'uncertainty'] : (datum.label == 'Min/Max of EUROCOMv2 inversions' ? ['Min/Max of EUROCOMv2', 'inversions'] : datum.label))",
            "encode": {"symbols": {"update": {"strokeWidth": {"value": 1.8}}}, "labels": {"update": {"lineHeight": {"value": 20}}}}}},
        "stroke": {"field": "s", "type": "nominal", "legend": {"title": null, "orient": "none", "direction": "vertical", "legendX": 15, "legendY": 446,
            "values": ["Kyoto Protocol (entering into force)","Paris Agreement","UNFCCC LULUCF NGHGI (2021)","UNFCCC LULUCF NGHGI (2021) uncertainty","FAOSTAT-V2021","Mean of EUROCOMv2 inversions","Min/Max of EUROCOMv2 inversions"],
            "symbolSize": 225, "symbolStrokeWidth": 1.8, "symbolFillColor": "transparent", "symbolStrokeColor": "black", "symbolOffset": 0, "labelOffset": 23, "labelFontSize": 17.3, "labelFont": "DejaVu Sans", "labelColor": "black", "labelLimit": 600, "rowPadding": 7, "padding": 0,
            "labelExpr": "datum.label == 'Kyoto Protocol (entering into force)' ? ['Kyoto Protocol (entering into', 'force)'] : (datum.label == 'UNFCCC LULUCF NGHGI (2021) uncertainty' ? ['UNFCCC LULUCF NGHGI (2021)', 'uncertainty'] : (datum.label == 'Min/Max of EUROCOMv2 inversions' ? ['Min/Max of EUROCOMv2', 'inversions'] : datum.label))",
            "encode": {"symbols": {"update": {"strokeWidth": {"value": 1.8}}}, "labels": {"update": {"lineHeight": {"value": 20}}}}}},
        "strokeDash": {"field": "s", "type": "nominal", "legend": {"title": null, "orient": "none", "direction": "vertical", "legendX": 15, "legendY": 446,
            "values": ["Kyoto Protocol (entering into force)","Paris Agreement","UNFCCC LULUCF NGHGI (2021)","UNFCCC LULUCF NGHGI (2021) uncertainty","FAOSTAT-V2021","Mean of EUROCOMv2 inversions","Min/Max of EUROCOMv2 inversions"],
            "symbolSize": 225, "symbolStrokeWidth": 1.8, "symbolFillColor": "transparent", "symbolStrokeColor": "black", "symbolOffset": 0, "labelOffset": 23, "labelFontSize": 17.3, "labelFont": "DejaVu Sans", "labelColor": "black", "labelLimit": 600, "rowPadding": 7, "padding": 0,
            "labelExpr": "datum.label == 'Kyoto Protocol (entering into force)' ? ['Kyoto Protocol (entering into', 'force)'] : (datum.label == 'UNFCCC LULUCF NGHGI (2021) uncertainty' ? ['UNFCCC LULUCF NGHGI (2021)', 'uncertainty'] : (datum.label == 'Min/Max of EUROCOMv2 inversions' ? ['Min/Max of EUROCOMv2', 'inversions'] : datum.label))",
            "encode": {"symbols": {"update": {"strokeWidth": {"value": 1.8}}}, "labels": {"update": {"lineHeight": {"value": 20}}}}}}
      }
    },
    {
      "data": {"name": "pts"},
      "transform": [{"filter": {"field": "s", "oneOf": ["BLUEvVERIFY-V2021", "FAOSTAT-V2021", "BLUEvGCP-V2021", "H&N-V2021"]}}],
      "mark": {"type": "point", "filled": true, "size": 256, "strokeWidth": 1, "opacity": 1},
      "encoding": {
        "x": {"field": "x", "type": "quantitative", "axis": null},
        "y": {"field": "y", "type": "quantitative"},
        "shape": {"field": "s", "type": "nominal", "legend": null},
        "fill": {"field": "s", "type": "nominal", "legend": null},
        "stroke": {"field": "s", "type": "nominal", "legend": null}
      }
    },
    {
      "data": {"name": "pts"},
      "transform": [{"filter": {"field": "s", "equal": "CABLE-POP-V2021-VERIFY"}}],
      "mark": {"type": "point", "filled": true, "size": 493, "strokeWidth": 1, "opacity": 1},
      "encoding": {
        "x": {"field": "x", "type": "quantitative", "axis": null},
        "y": {"field": "y", "type": "quantitative"},
        "shape": {"field": "s", "type": "nominal", "legend": {"title": null, "orient": "none", "direction": "vertical", "legendX": 376, "legendY": 459,
            "values": ["Mean of GCP inversions (2021)","Min/Max of GCP inversions (2021)","Mean of CarboScopeReg V2021","Mean of LUMIA V2021","CIF-CHIMERE-V2021","Trendy-V10"],
            "symbolSize": 225, "symbolStrokeWidth": 1.8, "symbolFillColor": "transparent", "symbolStrokeColor": "black", "symbolOffset": 0, "labelOffset": 23, "labelFontSize": 17.3, "labelFont": "DejaVu Sans", "labelColor": "black", "labelLimit": 600, "rowPadding": 6, "padding": 0,
            "labelExpr": "datum.label == 'Min/Max of GCP inversions (2021)' ? ['Min/Max of GCP inversions', '(2021)'] : datum.label",
            "encode": {"symbols": {"update": {"strokeWidth": {"value": 1.8}}}, "labels": {"update": {"lineHeight": {"value": 20}}}}}},
        "fill": {"field": "s", "type": "nominal", "legend": {"title": null, "orient": "none", "direction": "vertical", "legendX": 376, "legendY": 459,
            "values": ["Mean of GCP inversions (2021)","Min/Max of GCP inversions (2021)","Mean of CarboScopeReg V2021","Mean of LUMIA V2021","CIF-CHIMERE-V2021","Trendy-V10"],
            "symbolSize": 225, "symbolStrokeWidth": 1.8, "symbolFillColor": "transparent", "symbolStrokeColor": "black", "symbolOffset": 0, "labelOffset": 23, "labelFontSize": 17.3, "labelFont": "DejaVu Sans", "labelColor": "black", "labelLimit": 600, "rowPadding": 6, "padding": 0,
            "labelExpr": "datum.label == 'Min/Max of GCP inversions (2021)' ? ['Min/Max of GCP inversions', '(2021)'] : datum.label",
            "encode": {"symbols": {"update": {"strokeWidth": {"value": 1.8}}}, "labels": {"update": {"lineHeight": {"value": 20}}}}}},
        "stroke": {"field": "s", "type": "nominal", "legend": {"title": null, "orient": "none", "direction": "vertical", "legendX": 376, "legendY": 459,
            "values": ["Mean of GCP inversions (2021)","Min/Max of GCP inversions (2021)","Mean of CarboScopeReg V2021","Mean of LUMIA V2021","CIF-CHIMERE-V2021","Trendy-V10"],
            "symbolSize": 225, "symbolStrokeWidth": 1.8, "symbolFillColor": "transparent", "symbolStrokeColor": "black", "symbolOffset": 0, "labelOffset": 23, "labelFontSize": 17.3, "labelFont": "DejaVu Sans", "labelColor": "black", "labelLimit": 600, "rowPadding": 6, "padding": 0,
            "labelExpr": "datum.label == 'Min/Max of GCP inversions (2021)' ? ['Min/Max of GCP inversions', '(2021)'] : datum.label",
            "encode": {"symbols": {"update": {"strokeWidth": {"value": 1.8}}}, "labels": {"update": {"lineHeight": {"value": 20}}}}}},
        "strokeDash": {"field": "s", "type": "nominal", "legend": {"title": null, "orient": "none", "direction": "vertical", "legendX": 376, "legendY": 459,
            "values": ["Mean of GCP inversions (2021)","Min/Max of GCP inversions (2021)","Mean of CarboScopeReg V2021","Mean of LUMIA V2021","CIF-CHIMERE-V2021","Trendy-V10"],
            "symbolSize": 225, "symbolStrokeWidth": 1.8, "symbolFillColor": "transparent", "symbolStrokeColor": "black", "symbolOffset": 0, "labelOffset": 23, "labelFontSize": 17.3, "labelFont": "DejaVu Sans", "labelColor": "black", "labelLimit": 600, "rowPadding": 6, "padding": 0,
            "labelExpr": "datum.label == 'Min/Max of GCP inversions (2021)' ? ['Min/Max of GCP inversions', '(2021)'] : datum.label",
            "encode": {"symbols": {"update": {"strokeWidth": {"value": 1.8}}}, "labels": {"update": {"lineHeight": {"value": 20}}}}}}
      }
    },
    {
      "data": {"name": "pts"},
      "transform": [{"filter": {"field": "s", "equal": "CIF-CHIMERE-V2021"}}],
      "mark": {"type": "point", "filled": true, "size": 324, "strokeWidth": 1, "opacity": 1},
      "encoding": {
        "x": {"field": "x", "type": "quantitative",
          "axis": {"orient": "bottom", "values": [2023], "labelExpr": "['Mean of', 'overlapping', 'timeseries']",
            "labelOverlap": false, "labelFlush": false, "labelFontSize": 17, "labelLineHeight": 24, "labelPadding": 2, "tickSize": 7,
            "labelColor": "black", "tickColor": "black", "domain": false, "grid": false, "title": null}},
        "y": {"field": "y", "type": "quantitative"},
        "shape": {"field": "s", "type": "nominal", "legend": {"title": null, "orient": "none", "direction": "vertical", "legendX": 730, "legendY": 457,
            "values": ["Min/Max of TRENDY v10 DGVMs","ORCHIDEE-N-V2021-VERIFY","CABLE-POP-V2021-VERIFY","BLUEvVERIFY-V2021","BLUEvGCP-V2021","H&N-V2021"],
            "symbolSize": 225, "symbolStrokeWidth": 1.8, "symbolFillColor": "transparent", "symbolStrokeColor": "black", "symbolOffset": 0, "labelOffset": 23, "labelFontSize": 17.3, "labelFont": "DejaVu Sans", "labelColor": "black", "labelLimit": 600, "rowPadding": 6, "padding": 0,
            "encode": {"symbols": {"update": {"strokeWidth": {"value": 1.8}}}}}},
        "fill": {"field": "s", "type": "nominal", "legend": {"title": null, "orient": "none", "direction": "vertical", "legendX": 730, "legendY": 457,
            "values": ["Min/Max of TRENDY v10 DGVMs","ORCHIDEE-N-V2021-VERIFY","CABLE-POP-V2021-VERIFY","BLUEvVERIFY-V2021","BLUEvGCP-V2021","H&N-V2021"],
            "symbolSize": 225, "symbolStrokeWidth": 1.8, "symbolFillColor": "transparent", "symbolStrokeColor": "black", "symbolOffset": 0, "labelOffset": 23, "labelFontSize": 17.3, "labelFont": "DejaVu Sans", "labelColor": "black", "labelLimit": 600, "rowPadding": 6, "padding": 0,
            "encode": {"symbols": {"update": {"strokeWidth": {"value": 1.8}}}}}},
        "stroke": {"field": "s", "type": "nominal", "legend": {"title": null, "orient": "none", "direction": "vertical", "legendX": 730, "legendY": 457,
            "values": ["Min/Max of TRENDY v10 DGVMs","ORCHIDEE-N-V2021-VERIFY","CABLE-POP-V2021-VERIFY","BLUEvVERIFY-V2021","BLUEvGCP-V2021","H&N-V2021"],
            "symbolSize": 225, "symbolStrokeWidth": 1.8, "symbolFillColor": "transparent", "symbolStrokeColor": "black", "symbolOffset": 0, "labelOffset": 23, "labelFontSize": 17.3, "labelFont": "DejaVu Sans", "labelColor": "black", "labelLimit": 600, "rowPadding": 6, "padding": 0,
            "encode": {"symbols": {"update": {"strokeWidth": {"value": 1.8}}}}}},
        "strokeDash": {"field": "s", "type": "nominal", "legend": {"title": null, "orient": "none", "direction": "vertical", "legendX": 730, "legendY": 457,
            "values": ["Min/Max of TRENDY v10 DGVMs","ORCHIDEE-N-V2021-VERIFY","CABLE-POP-V2021-VERIFY","BLUEvVERIFY-V2021","BLUEvGCP-V2021","H&N-V2021"],
            "symbolSize": 225, "symbolStrokeWidth": 1.8, "symbolFillColor": "transparent", "symbolStrokeColor": "black", "symbolOffset": 0, "labelOffset": 23, "labelFontSize": 17.3, "labelFont": "DejaVu Sans", "labelColor": "black", "labelLimit": 600, "rowPadding": 6, "padding": 0,
            "encode": {"symbols": {"update": {"strokeWidth": {"value": 1.8}}}}}}
      }
    }
  ]
}
